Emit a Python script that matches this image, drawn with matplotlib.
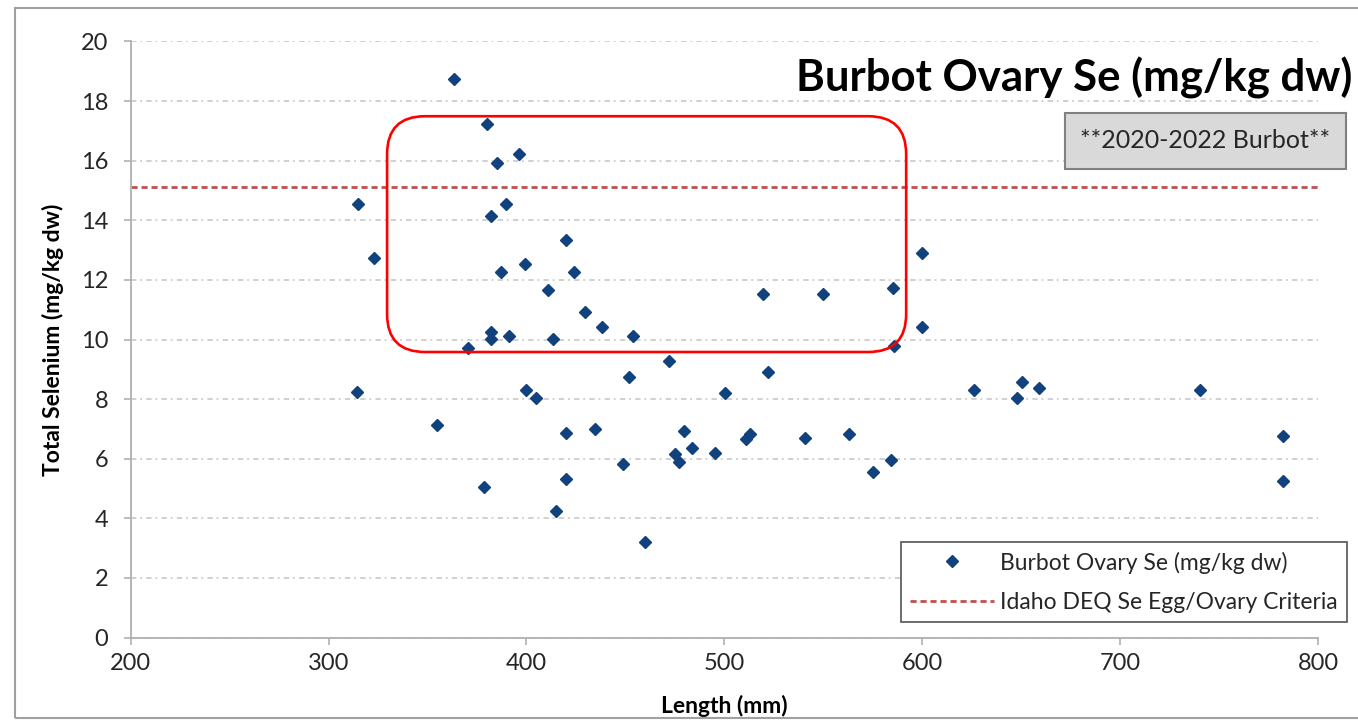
import matplotlib
matplotlib.use("Agg")
import matplotlib.pyplot as plt
from matplotlib.patches import FancyBboxPatch, Rectangle

plt.rcParams['font.family'] = ['Lato', 'DejaVu Sans']

# fish length (mm) and ovary selenium (mg/kg dw)
length_mm = [363.6, 380.2, 385.1, 396.1, 314.8, 389.7, 382.0, 420.2, 323.1, 399.1,
             387.2, 424.1, 410.8, 429.8, 438.0, 382.0, 382.0, 391.1, 413.3, 370.3,
             453.7, 472.2, 452.0, 521.9, 500.2, 314.2, 399.8, 405.0, 355.0, 420.2,
             434.8, 479.5, 475.1, 477.0, 483.8, 495.1, 510.8, 512.8, 540.9, 563.2,
             448.7, 584.2, 575.0, 378.4, 420.2, 415.0, 460.0, 519.7, 549.7, 585.1,
             599.7, 599.7, 585.8, 626.2, 650.3, 648.1, 659.0, 740.5, 782.2, 782.2]
selenium = [18.74, 17.23, 15.92, 16.22, 14.54, 14.54, 14.15, 13.34, 12.74, 12.54,
            12.25, 12.25, 11.66, 10.93, 10.43, 10.25, 10.03, 10.13, 10.01, 9.72,
            10.13, 9.29, 8.74, 8.91, 8.19, 8.24, 8.30, 8.05, 7.12, 6.86,
            7.00, 6.93, 6.17, 5.90, 6.37, 6.20, 6.66, 6.82, 6.71, 6.84,
            5.81, 5.96, 5.57, 5.06, 5.31, 4.25, 3.20, 11.54, 11.54, 11.74,
            12.91, 10.43, 9.77, 8.32, 8.58, 8.05, 8.36, 8.32, 6.75, 5.25]

criteria = 15.1  # Idaho DEQ egg/ovary criterion
x_ticks = [200, 300, 400, 500, 600, 700, 800]
y_ticks = [0, 2, 4, 6, 8, 10, 12, 14, 16, 18, 20]

# highlight box (data units)
box_x = (329.6, 591.9)
box_y = (9.58, 17.49)

W, H = 1358, 721
fig = plt.figure(figsize=(W / 100, H / 100), dpi=100)
ax = fig.add_axes([130.6 / W, 1 - 637.6 / H, (1318 - 130.6) / W, (637.6 - 41.4) / H])

ax.plot(length_mm, selenium, linestyle='none', marker='D', markersize=6.3,
        color='#12427e', label='Burbot Ovary Se (mg/kg dw)', zorder=3)
ax.axhline(criteria, color='#c0504d', lw=2, dashes=(2.2, 1.4),
           label='Idaho DEQ Se Egg/Ovary Criteria', zorder=2)

ax.set_xlim(200, 800)
ax.set_ylim(0, 20)
ax.set_xticks(x_ticks)
ax.set_yticks(y_ticks)
ax.yaxis.grid(True, color='#c4c4c4', lw=1.1, linestyle=(0, (3.5, 2.5, 1.2, 2.8)))
ax.set_axisbelow(True)

for s in ['top', 'right']:
    ax.spines[s].set_visible(False)
for s in ['left', 'bottom']:
    ax.spines[s].set_color('#b0b0b0')
    ax.spines[s].set_linewidth(1.3)

ax.tick_params(axis='x', direction='out', length=5, color='#b0b0b0', width=1.2,
               labelsize=17, labelcolor='#262626', pad=6)
ax.tick_params(axis='y', direction='out', length=5, color='#b0b0b0', width=1.2,
               labelsize=17, labelcolor='#262626', pad=11)

ax.set_xlabel('Length (mm)', fontsize=16.5, fontweight='bold', labelpad=15)
ax.set_ylabel('Total Selenium (mg/kg dw)', fontsize=16.5, fontweight='bold', labelpad=12)

# red rounded highlight rectangle
inv = fig.dpi_scale_trans.inverted()
(x0, y0) = inv.transform(ax.transData.transform((box_x[0], box_y[0])))
(x1, y1) = inv.transform(ax.transData.transform((box_x[1], box_y[1])))
fig.patches.append(FancyBboxPatch((x0, y0), x1 - x0, y1 - y0,
                                  boxstyle='round,pad=0,rounding_size=0.38',
                                  transform=fig.dpi_scale_trans, fill=False,
                                  edgecolor='#ff0000', lw=1.9, zorder=5))

# title and note box
fig.text(1352 / W, 1 - 91.6 / H, 'Burbot Ovary Se (mg/kg dw)', ha='right', va='baseline',
         fontsize=31.5, fontweight='bold', color='#000000')
fig.patches.append(Rectangle((1065 / W, 1 - 169 / H), (1346 - 1065) / W, (169 - 112.6) / H,
                             transform=fig.transFigure, facecolor='#d9d9d9',
                             edgecolor='#808080', lw=1.5, zorder=4))
fig.text(1205.5 / W, 1 - 140.8 / H, '**2020-2022 Burbot**', ha='center', va='center',
         fontsize=18, color='#262626', zorder=6)

leg = ax.legend(loc='lower right', bbox_to_anchor=(1347 / W, 1 - 622 / H),
                bbox_transform=fig.transFigure, fontsize=16.5, frameon=True,
                fancybox=False, framealpha=1, edgecolor='#606060',
                handlelength=3.7, handletextpad=0.25, borderpad=0.4,
                labelspacing=0.8, borderaxespad=0)
leg.get_frame().set_linewidth(1.3)
for t in leg.get_texts():
    t.set_color('#262626')

# outer chart frame
fig.patches.append(Rectangle((15 / W, 3 / H), 1.1, (718 - 8) / H, transform=fig.transFigure,
                             fill=False, edgecolor='#a0a0a0', lw=1.5))

fig.savefig('out.png', dpi=100)
